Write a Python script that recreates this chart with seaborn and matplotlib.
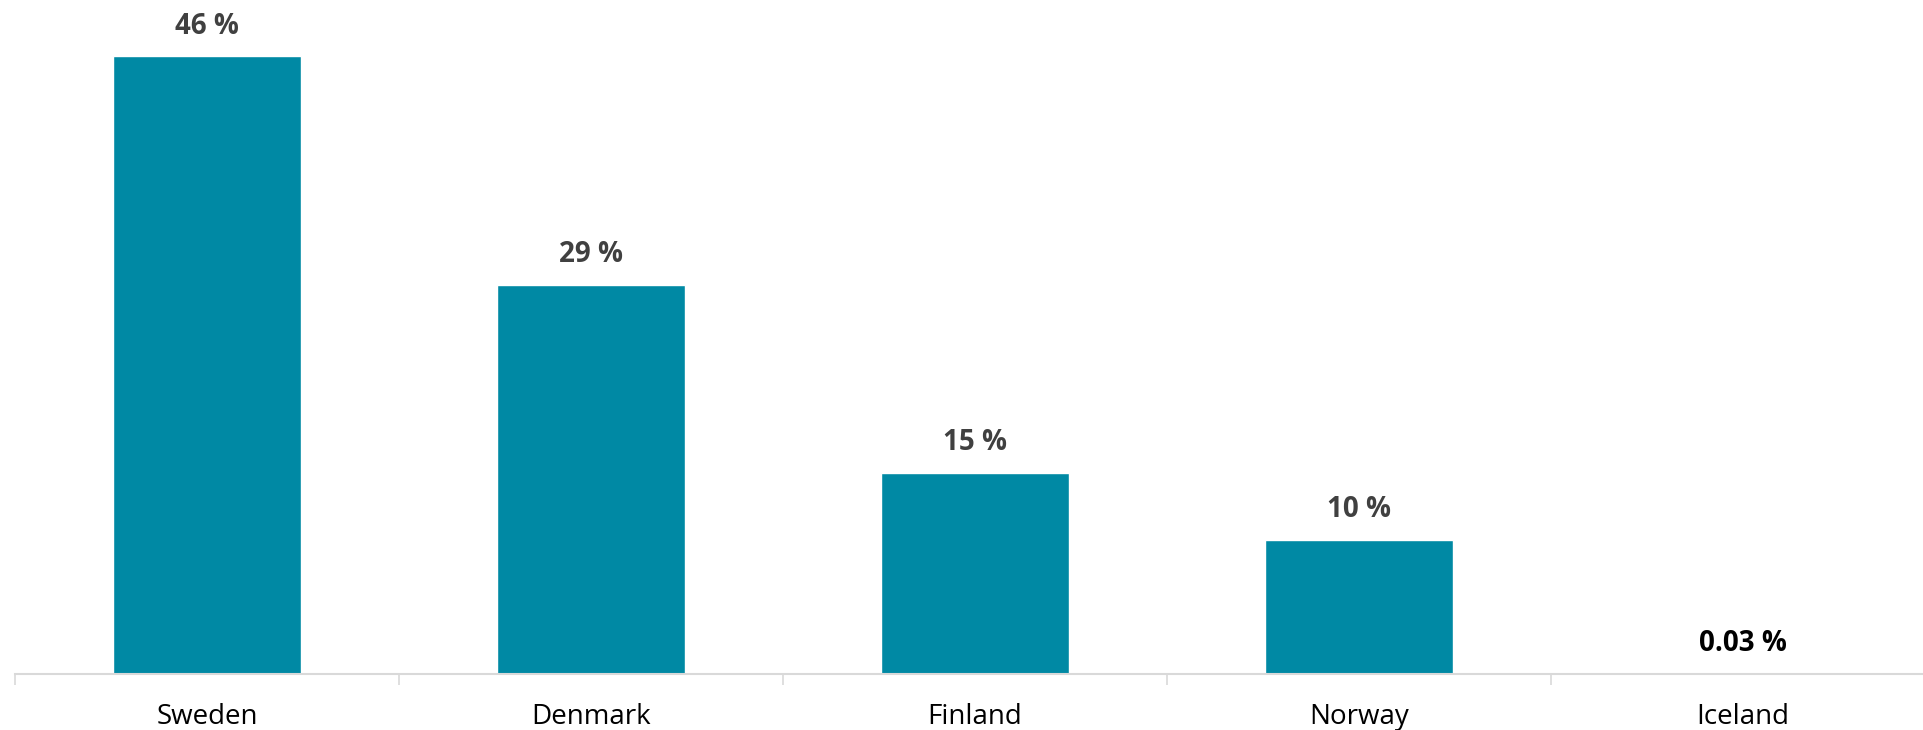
import numpy as np
import pandas as pd
import matplotlib
matplotlib.use("Agg")
import matplotlib.pyplot as plt
import seaborn as sns

categories = ["Sweden", "Denmark", "Finland", "Norway", "Iceland"]
values = [46, 29, 15, 10, 0.03]
value_labels = ["46 %", "29 %", "15 %", "10 %", "0.03 %"]

sns.set_theme(style="white")
plt.rcParams["font.family"] = ["Open Sans", "DejaVu Sans"]

fig = plt.figure(figsize=(19.23, 7.30), dpi=100)
W, H = 1923, 730
left = 15 / W
bottom = (H - 674) / H
width = (5 * 384) / W
height = 674 / H
ax = fig.add_axes([left, bottom, width, height])

df = pd.DataFrame({"country": categories, "share": values})
sns.barplot(data=df, x="country", y="share", color="#0089A4", width=0.49,
            saturation=1, ax=ax)

ax.set_xlim(-0.5, 4.5)
ax.set_ylim(0, 50.2)

for i, (v, lab) in enumerate(zip(values, value_labels)):
    col = "#000000" if i == 4 else "#404040"
    ax.annotate(lab, xy=(i, v), xytext=(0, 30 * 0.72), textcoords="offset points",
                ha="center", va="center", fontsize=20, fontweight="bold", color=col)

for s in ["left", "right", "top"]:
    ax.spines[s].set_visible(False)
ax.spines["bottom"].set_color("#D9D9D9")
ax.spines["bottom"].set_linewidth(1.5)

ax.set_yticks([])
ax.set_xlabel("")
ax.set_ylabel("")
ax.set_xticks(np.arange(-0.5, 5, 1), minor=True)
ax.tick_params(axis="x", which="major", length=0, pad=21, labelsize=20, labelcolor="#000000")
ax.tick_params(axis="x", which="minor", length=8, width=1.2, color="#D9D9D9", direction="out", bottom=True)

fig.savefig("out.png", dpi=100)
